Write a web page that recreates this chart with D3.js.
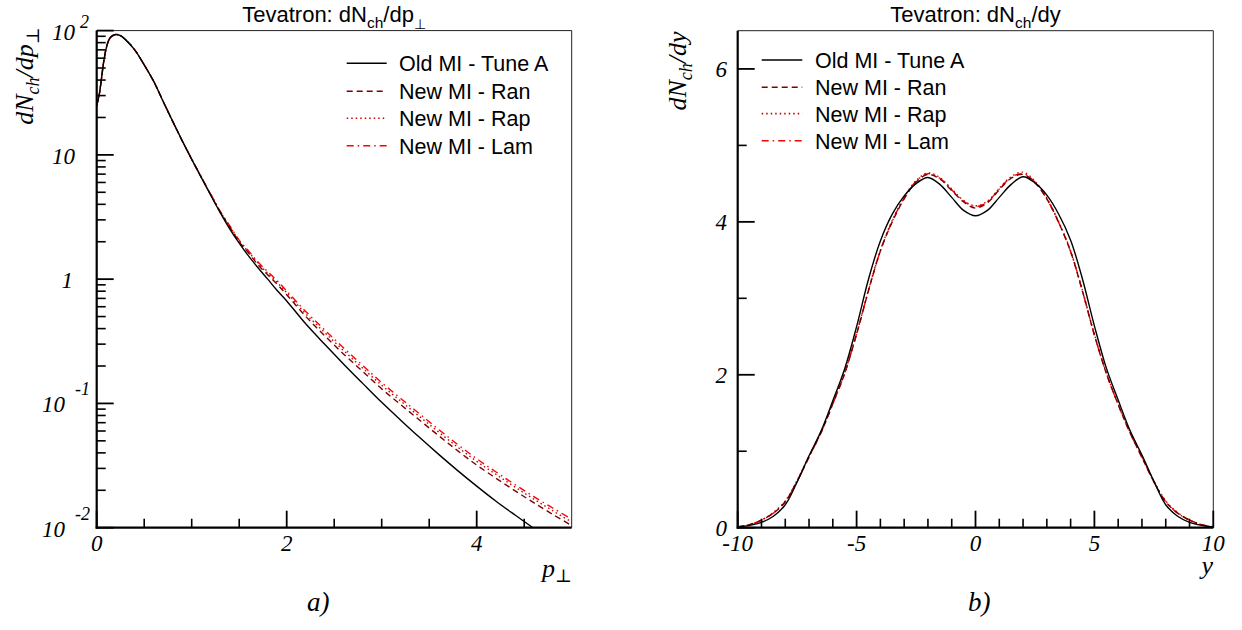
<!DOCTYPE html>
<html><head><meta charset="utf-8">
<script src="https://cdn.jsdelivr.net/npm/d3@7"></script>
<style>body{margin:0;background:#fff}svg{display:block}text{fill:#000}</style>
</head><body><svg id="c" width="1242" height="630"></svg>
<script>
// ---------- DATA: left panel dN/dpT ----------
const ptValues = [0, 0.025, 0.05, 0.075, 0.1, 0.125, 0.15, 0.2, 0.25, 0.3, 0.4, 0.5, 0.6, 0.7, 0.8, 0.9, 1.0, 1.1, 1.2, 1.3, 1.4, 1.5, 1.6, 1.7, 1.8, 1.9, 2.0, 2.2, 2.4, 2.6, 2.8, 3.0, 3.2, 3.4, 3.6, 3.8, 4.0, 4.2, 4.4, 4.6, 4.8, 5.0];
const ptOld = [25, 30, 41, 57, 72, 83, 89, 93, 91, 85, 70, 53, 39, 26.9, 18.6, 13.0, 9.2, 6.6, 4.73, 3.43, 2.54, 1.95, 1.53, 1.23, 1.0, 0.81, 0.668, 0.437, 0.299, 0.207, 0.145, 0.102, 0.0733, 0.0531, 0.0389, 0.0288, 0.0216, 0.0164, 0.0127, 0.0099, 0.0078, 0.0062];
const ptRan = [25, 30, 41, 57, 72, 83, 89, 93, 91, 85, 70, 53, 39, 26.9, 18.6, 13.0, 9.22, 6.62, 4.79, 3.47, 2.63, 2.0, 1.62, 1.3, 1.084, 0.91, 0.750, 0.502, 0.351, 0.249, 0.181, 0.131, 0.0978, 0.0733, 0.0550, 0.0416, 0.0319, 0.0251, 0.0199, 0.0159, 0.0128, 0.0104];
const ptRap = [25, 30, 41, 57, 72, 83, 89, 93, 91, 85, 70, 53, 39, 26.9, 18.6, 13.0, 9.24, 6.64, 4.81, 3.5, 2.66, 2.03, 1.65, 1.34, 1.115, 0.94, 0.777, 0.527, 0.372, 0.266, 0.192, 0.140, 0.1045, 0.0782, 0.0588, 0.0445, 0.0342, 0.0269, 0.0213, 0.0170, 0.0137, 0.0111];
const ptLam = [25, 30, 41, 57, 72, 83, 89, 93, 91, 85, 70, 53, 39, 26.9, 18.6, 13.0, 9.26, 6.66, 4.84, 3.53, 2.69, 2.06, 1.68, 1.37, 1.148, 0.97, 0.803, 0.550, 0.390, 0.279, 0.202, 0.147, 0.1097, 0.0822, 0.0617, 0.0467, 0.0359, 0.0282, 0.0223, 0.0178, 0.0144, 0.0117];

// ---------- DATA: right panel dN/dy ----------
const yValues = [-10, -9.5, -9, -8.5, -8, -7.5, -7, -6.5, -6, -5.5, -5, -4.5, -4, -3.5, -3, -2.5, -2, -1.5, -1, -0.5, 0, 0.5, 1, 1.5, 2, 2.5, 3, 3.5, 4, 4.5, 5, 5.5, 6, 6.5, 7, 7.5, 8, 8.5, 9, 9.5, 10];
const dyOld = [0.01, 0.03, 0.07, 0.15, 0.30, 0.60, 0.94, 1.26, 1.66, 2.08, 2.63, 3.25, 3.75, 4.10, 4.34, 4.50, 4.58, 4.49, 4.32, 4.15, 4.08, 4.15, 4.32, 4.49, 4.59, 4.51, 4.35, 4.10, 3.76, 3.25, 2.64, 2.09, 1.67, 1.27, 0.95, 0.61, 0.30, 0.15, 0.07, 0.03, 0.01];
const dyRan = [0.01, 0.04, 0.10, 0.19, 0.34, 0.61, 0.93, 1.24, 1.62, 2.02, 2.53, 3.10, 3.62, 4.00, 4.30, 4.52, 4.62, 4.56, 4.41, 4.26, 4.18, 4.25, 4.42, 4.57, 4.62, 4.51, 4.30, 3.99, 3.61, 3.09, 2.52, 2.02, 1.61, 1.24, 0.92, 0.60, 0.34, 0.19, 0.10, 0.04, 0.01];
const dyRap = [0.01, 0.04, 0.10, 0.20, 0.35, 0.62, 0.93, 1.25, 1.63, 2.03, 2.54, 3.11, 3.63, 4.02, 4.32, 4.54, 4.64, 4.58, 4.43, 4.28, 4.21, 4.27, 4.44, 4.59, 4.65, 4.53, 4.31, 4.00, 3.62, 3.10, 2.53, 2.03, 1.62, 1.25, 0.93, 0.61, 0.35, 0.20, 0.10, 0.04, 0.01];
const dyLam = [0.01, 0.04, 0.10, 0.19, 0.34, 0.61, 0.92, 1.24, 1.62, 2.02, 2.54, 3.10, 3.62, 4.01, 4.31, 4.53, 4.63, 4.57, 4.42, 4.27, 4.20, 4.26, 4.43, 4.58, 4.63, 4.52, 4.30, 3.99, 3.61, 3.09, 2.52, 2.02, 1.61, 1.24, 0.92, 0.60, 0.34, 0.19, 0.10, 0.04, 0.01];

// ---------- tick labels ----------
const ptTickLabels = ["0", "2", "4"];
const ptTickValues = [0, 2, 4];
const logTickValues = [100, 10, 1, 0.1, 0.01];
const logTickBase = ["10", "10", "1", "10", "10"];
const logTickExp = ["2", "", "", "-1", "-2"];
const yTickValuesR = [0, 2, 4, 6];
const yTickLabelsR = ["0", "2", "4", "6"];
const xTickValuesR = [-10, -5, 0, 5, 10];
const xTickLabelsR = ["-10", "-5", "0", "5", "10"];
const legendLabels = ["Old MI - Tune A", "New MI - Ran", "New MI - Rap", "New MI - Lam"];

// ---------- styles ----------
const seriesStyle = [
  {color: "#000000", dash: null, width: 1.4},
  {color: "#800000", dash: "6,4", width: 1.4},
  {color: "#cc0000", dash: "1.5,3", width: 1.4},
  {color: "#ff0000", dash: "7,4,1.5,4", width: 1.4}
];
const serif = "'Liberation Serif', 'DejaVu Serif', serif";
const sans = "'Liberation Sans', Arial, sans-serif";
const symFont = "'DejaVu Sans', sans-serif";

const svg = d3.select("#c");

function drawPanel(cfg) {
  const g = svg.append("g");
  const x = cfg.x, y = cfg.y;
  const [x0, x1] = x.range();
  const [y1, y0] = y.range();
  const clipId = "clip" + cfg.id;
  svg.append("clipPath").attr("id", clipId).append("rect")
    .attr("x", x0).attr("y", y0).attr("width", x1 - x0).attr("height", y1 - y0);

  // frame (thin top/right)
  g.append("line").attr("x1", x0).attr("x2", x1).attr("y1", y0).attr("y2", y0).attr("stroke", "#222").attr("stroke-width", 1);
  g.append("line").attr("x1", x1).attr("x2", x1).attr("y1", y0).attr("y2", y1).attr("stroke", "#222").attr("stroke-width", 1);

  // curves
  const line = d3.line().x((d) => x(d[0])).y((d) => y(d[1])).curve(d3.curveCatmullRom.alpha(0.5));
  const cg = g.append("g").attr("clip-path", `url(#${clipId})`);
  cfg.series.slice().reverse().forEach((s, ri) => {
    const i = cfg.series.length - 1 - ri;
    const st = seriesStyle[i];
    cg.append("path").datum(cfg.xs.map((v, k) => [v, s[k]]))
      .attr("d", line).attr("fill", "none").attr("stroke", st.color)
      .attr("stroke-width", st.width).attr("stroke-dasharray", st.dash);
  });

  // ticks
  const ax = g.append("g");
  cfg.yMajor.forEach(v => ax.append("line").attr("x1", x0).attr("x2", x0 + 17).attr("y1", y(v)).attr("y2", y(v)).attr("stroke", "#000").attr("stroke-width", 1.8));
  cfg.yMinor.forEach(v => ax.append("line").attr("x1", x0).attr("x2", x0 + 9).attr("y1", y(v)).attr("y2", y(v)).attr("stroke", "#000").attr("stroke-width", 1.6));
  cfg.xMajor.forEach(v => ax.append("line").attr("x1", x(v)).attr("x2", x(v)).attr("y1", y1).attr("y2", y1 - 17).attr("stroke", "#000").attr("stroke-width", 1.8));
  cfg.xMinor.forEach(v => ax.append("line").attr("x1", x(v)).attr("x2", x(v)).attr("y1", y1).attr("y2", y1 - 9).attr("stroke", "#000").attr("stroke-width", 1.6));
  // axis lines
  ax.append("line").attr("x1", x0).attr("x2", x0).attr("y1", y0).attr("y2", y1 + 1).attr("stroke", "#000").attr("stroke-width", 2.2);
  ax.append("line").attr("x1", x0 - 1).attr("x2", x1).attr("y1", y1).attr("y2", y1).attr("stroke", "#000").attr("stroke-width", 2.2);

  // x tick labels
  cfg.xLabVals.forEach((v, k) => {
    g.append("text").attr("x", x(v)).attr("y", y1 + 23).attr("text-anchor", "middle")
      .attr("font-family", serif).attr("font-style", "italic").attr("font-size", 23)
      .attr("fill", "#000").text(cfg.xLabs[k]);
  });

  // title
  const t = g.append("text").attr("x", (x0 + x1) / 2).attr("y", 22).attr("text-anchor", "middle")
    .attr("font-family", sans).attr("font-size", 22).attr("fill", "#000");
  t.append("tspan").text("Tevatron: dN");
  t.append("tspan").attr("font-size", 15.5).attr("dy", 6).text("ch");
  t.append("tspan").attr("dy", -6).text(cfg.titleTail);
  if (cfg.titleSub) t.append("tspan").attr("font-size", 14).attr("dy", 7).attr("font-family", symFont).attr("fill", "#000").text(cfg.titleSub);

  // legend
  cfg.legendRows.forEach((ry, k) => {
    const st = seriesStyle[k];
    g.append("line").attr("x1", cfg.legX0).attr("x2", cfg.legX1).attr("y1", ry).attr("y2", ry)
      .attr("stroke", st.color).attr("stroke-width", 1.6).attr("stroke-dasharray", st.dash);
    g.append("text").attr("x", cfg.legTX).attr("y", ry + 8).attr("font-family", sans).attr("font-size", 21.5)
      .attr("fill", "#000").text(legendLabels[k]);
  });
  return g;
}

// ---------- Left panel ----------
const xL = d3.scaleLinear().domain([0, 5]).range([96.7, 571.7]);
const yL = d3.scaleLog().domain([0.01, 100]).range([527.7, 30.6]);
const logMinor = [];
[0.01, 0.1, 1, 10].forEach(d => { for (let m = 2; m <= 9; m++) logMinor.push(d * m); });
const gL = drawPanel({
  id: "L", x: xL, y: yL, xs: ptValues, series: [ptOld, ptRan, ptRap, ptLam],
  yMajor: logTickValues, yMinor: logMinor,
  xMajor: ptTickValues, xMinor: [0.5, 1, 1.5, 2.5, 3, 3.5, 4.5],
  xLabVals: ptTickValues, xLabs: ptTickLabels,
  titleTail: "/dp", titleSub: "\u22A5",
  legendRows: [63.3, 91.3, 118.3, 145.7], legX0: 346.7, legX1: 386.7, legTX: 399
});
// log tick labels
logTickValues.forEach((v, k) => {
  const yy = yL(v);
  const hasExp = logTickExp[k] !== "";
  const baseRight = hasExp ? (logTickExp[k].length > 1 ? 65 : 75) : (logTickBase[k] === "1" ? 73 : 75);
  gL.append("text").attr("x", baseRight).attr("y", yy + 9).attr("text-anchor", "end")
    .attr("font-family", serif).attr("font-style", "italic").attr("font-size", 23).text(logTickBase[k]);
  if (hasExp) {
    gL.append("text").attr("x", baseRight + (logTickExp[k].length > 1 ? 10 : 5)).attr("y", yy + 9 - (v > 1 ? 12 : 17))
      .attr("font-family", serif).attr("font-style", "italic").attr("font-size", 18).text(logTickExp[k]);
  }
});
// y axis title
const ytl = gL.append("text").attr("transform", "translate(33,76) rotate(-90)").attr("text-anchor", "middle")
  .attr("font-family", serif).attr("font-style", "italic").attr("font-size", 26);
ytl.append("tspan").text("dN");
ytl.append("tspan").attr("font-size", 18).attr("dy", 6).text("ch");
ytl.append("tspan").attr("dy", -6).text("/dp");
ytl.append("tspan").attr("font-size", 18).attr("dy", 6).attr("font-style", "normal").text("\u22A5");
// x axis title
const xtl = gL.append("text").attr("x", 572).attr("y", 577).attr("text-anchor", "end")
  .attr("font-family", serif).attr("font-style", "italic").attr("font-size", 26);
xtl.append("tspan").text("p");
xtl.append("tspan").attr("font-size", 18).attr("dy", 5).attr("font-style", "normal").text("\u22A5");
gL.append("text").attr("x", 307).attr("y", 611).attr("font-family", serif).attr("font-style", "italic").attr("font-size", 27).text("a)");

// ---------- Right panel ----------
const xR = d3.scaleLinear().domain([-10, 10]).range([737.7, 1213.3]);
const yR = d3.scaleLinear().domain([0, 6.5]).range([527.7, 30.7]);
const gR = drawPanel({
  id: "R", x: xR, y: yR, xs: yValues, series: [dyOld, dyRan, dyRap, dyLam],
  yMajor: yTickValuesR, yMinor: [1, 3, 5],
  xMajor: xTickValuesR, xMinor: d3.range(-9, 10).filter(v => v % 5 !== 0),
  xLabVals: xTickValuesR, xLabs: xTickLabelsR,
  titleTail: "/dy", titleSub: null,
  legendRows: [60, 87.2, 113.6, 140.7], legX0: 761.7, legX1: 802.3, legTX: 815
});
yTickValuesR.forEach((v, k) => {
  gR.append("text").attr("x", 727).attr("y", yR(v) + 8).attr("text-anchor", "end")
    .attr("font-family", serif).attr("font-style", "italic").attr("font-size", 23).text(yTickLabelsR[k]);
});
const ytr = gR.append("text").attr("transform", "translate(686,71) rotate(-90)").attr("text-anchor", "middle")
  .attr("font-family", serif).attr("font-style", "italic").attr("font-size", 26);
ytr.append("tspan").text("dN");
ytr.append("tspan").attr("font-size", 18).attr("dy", 6).text("ch");
ytr.append("tspan").attr("dy", -6).text("/dy");
gR.append("text").attr("x", 1213).attr("y", 574).attr("text-anchor", "end")
  .attr("font-family", serif).attr("font-style", "italic").attr("font-size", 26).text("y");
gR.append("text").attr("x", 968).attr("y", 611).attr("font-family", serif).attr("font-style", "italic").attr("font-size", 27).text("b)");
</script>
</body></html>
